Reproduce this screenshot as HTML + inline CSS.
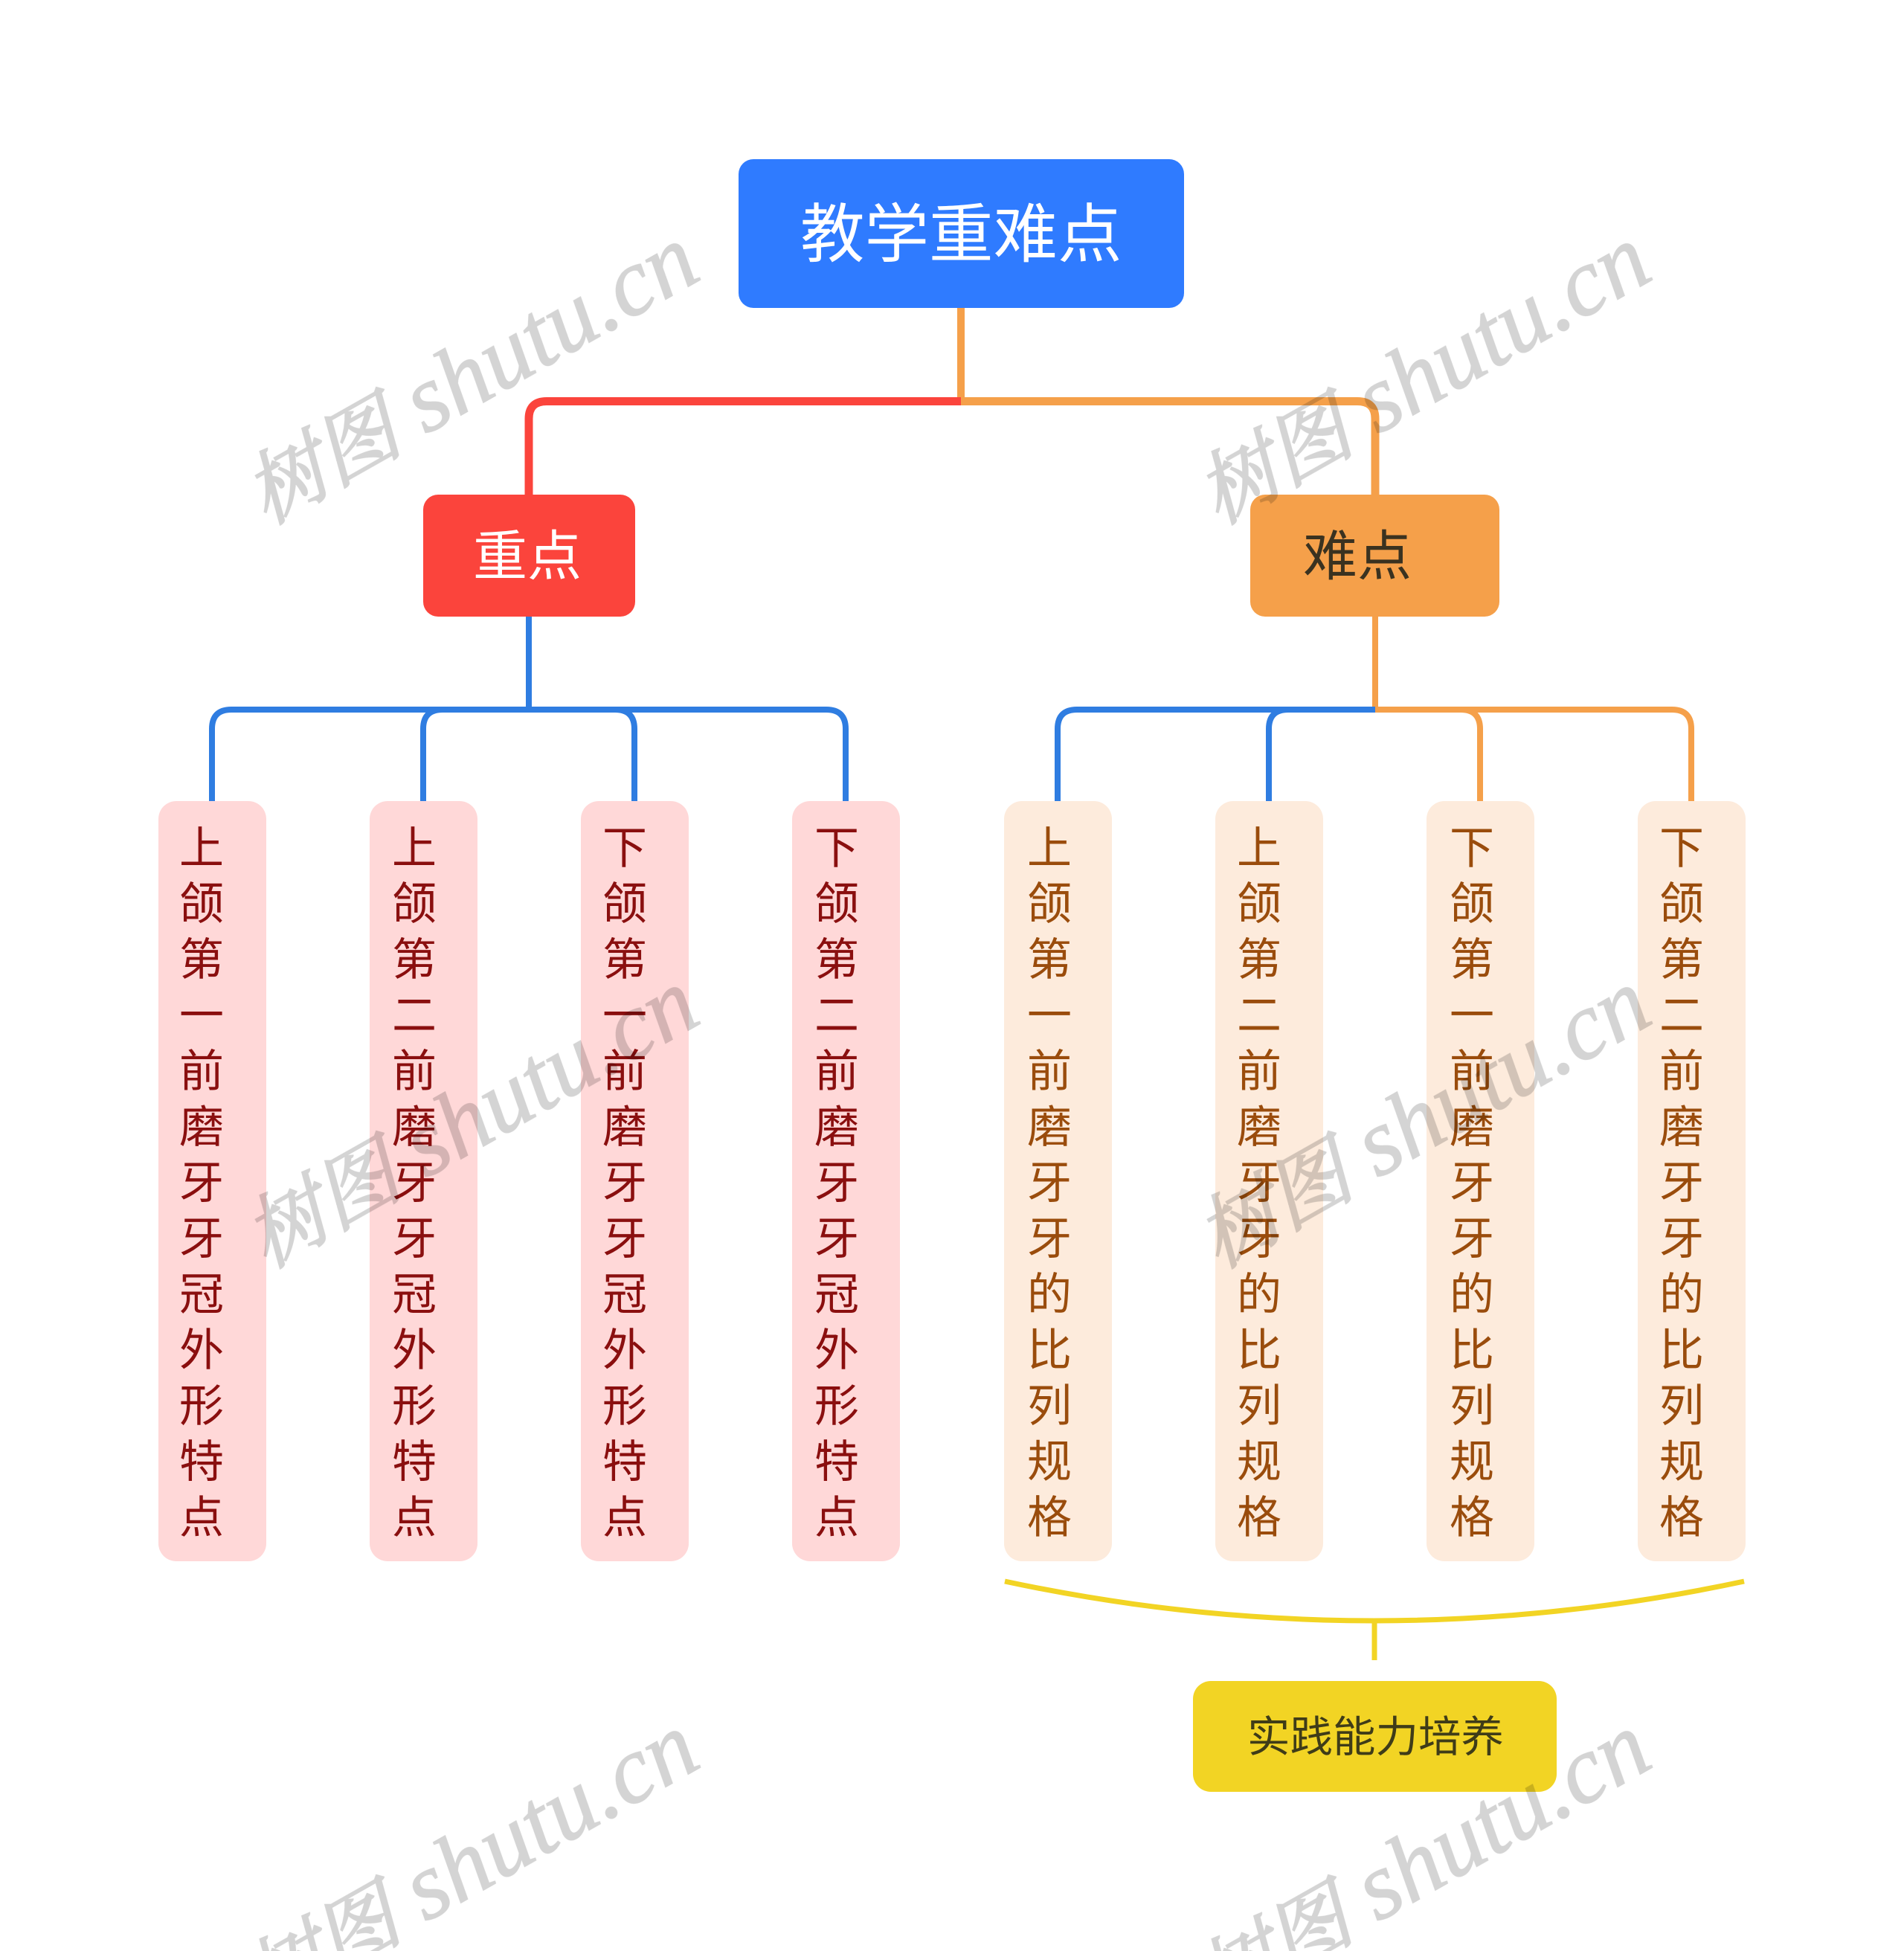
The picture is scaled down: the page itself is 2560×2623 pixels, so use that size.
<!DOCTYPE html>
<html><head><meta charset="utf-8"><style>
html,body{margin:0;padding:0;background:#fff}
#p{position:relative;width:2560px;height:2623px;overflow:hidden;background:#fff;font-family:"Liberation Sans","Noto Sans CJK SC",sans-serif}
.b{position:absolute;box-sizing:border-box}
.c{position:absolute;top:1077px;width:145px;height:1022px;border-radius:24px}
.r{background:#ffd8d8}.o{background:#fdebdc}
.t{position:absolute;top:1103px;width:60px;font-size:60px;line-height:75px;word-break:break-all;text-align:center}
.tr{color:#8a0f0f}.to{color:#9a4c0c}
.l{position:absolute;white-space:nowrap;line-height:1}
svg{position:absolute;left:0;top:0}
.w{font-family:"Liberation Serif","Noto Serif CJK SC",serif;font-style:italic;font-size:128px;fill:#000;stroke:#000;stroke-width:1.5;opacity:.17}
.w .z{font-size:107px;stroke-width:2.5}
</style></head><body><div id="p">
<svg width="2560" height="2623" fill="none">
<path d="M1292 414V540" stroke="#f5a04a" stroke-width="10"/>
<path d="M1292 539.5H735Q711 539.5 711 563V665" stroke="#fb443c" stroke-width="11"/>
<path d="M1292 539.5H1825Q1849 539.5 1849 563V665" stroke="#f5a04a" stroke-width="11"/>
<path d="M711 829V954" stroke="#2f7de1" stroke-width="8"/>
<path d="M711 954H311Q285 954 285 980V1077M711 954H595Q569 954 569 980V1077M711 954H827Q853 954 853 980V1077M711 954H1111Q1137 954 1137 980V1077" stroke="#2f7de1" stroke-width="8"/>
<path d="M1849 829V954" stroke="#f5a04a" stroke-width="8"/>
<path d="M1849 954H1448Q1422 954 1422 980V1077M1849 954H1732Q1706 954 1706 980V1077" stroke="#2f7de1" stroke-width="8"/>
<path d="M1849 954H1964Q1990 954 1990 980V1077M1849 954H2248Q2274 954 2274 980V1077" stroke="#f5a04a" stroke-width="8"/>
<path d="M1351 2126Q1848 2232 2345 2126" stroke="#f2d424" stroke-width="7"/>
<path d="M1848 2180V2232" stroke="#f2d424" stroke-width="7"/>
</svg>
<div class="b" style="left:993px;top:214px;width:599px;height:200px;border-radius:20px;background:#2f7bff"></div>
<div class="l" style="left:1076px;top:273px;font-size:86.5px;color:#fff">教学重难点</div>
<div class="b" style="left:569px;top:665px;width:285px;height:164px;border-radius:20px;background:#fb443c"></div>
<div class="l" style="left:636px;top:712px;font-size:73px;color:#fff">重点</div>
<div class="b" style="left:1681px;top:665px;width:335px;height:164px;border-radius:20px;background:#f5a04a"></div>
<div class="l" style="left:1752px;top:712px;font-size:73px;color:#3a3220">难点</div>
<div class="b" style="left:1604px;top:2260px;width:489px;height:149px;border-radius:24px;background:#f2d424"></div>
<div class="l" style="left:1677px;top:2308px;font-size:57.5px;color:#3f3c18">实践能力培养</div>

<div class="c r" style="left:213px"></div><div class="c r" style="left:497px"></div><div class="c r" style="left:781px"></div><div class="c r" style="left:1065px"></div>
<div class="c o" style="left:1350px"></div><div class="c o" style="left:1634px"></div><div class="c o" style="left:1918px"></div><div class="c o" style="left:2202px"></div>

<div class="t tr" style="left:241px">上颌第一前磨牙牙冠外形特点</div>
<div class="t tr" style="left:527px">上颌第二前磨牙牙冠外形特点</div>
<div class="t tr" style="left:810px">下颌第一前磨牙牙冠外形特点</div>
<div class="t tr" style="left:1095px">下颌第二前磨牙牙冠外形特点</div>
<div class="t to" style="left:1381px">上颌第一前磨牙牙的比列规格</div>
<div class="t to" style="left:1663px">上颌第二前磨牙牙的比列规格</div>
<div class="t to" style="left:1949px">下颌第一前磨牙牙的比列规格</div>
<div class="t to" style="left:2231px">下颌第二前磨牙牙的比列规格</div>

<svg width="2560" height="2623">
<g class="w">
<text transform="translate(358 706) rotate(-29.5)"><tspan class="z">树图</tspan> shutu.cn</text>
<text transform="translate(1638 706) rotate(-29.5)"><tspan class="z">树图</tspan> shutu.cn</text>
<text transform="translate(358 1706) rotate(-29.5)"><tspan class="z">树图</tspan> shutu.cn</text>
<text transform="translate(1638 1706) rotate(-29.5)"><tspan class="z">树图</tspan> shutu.cn</text>
<text transform="translate(358 2706) rotate(-29.5)"><tspan class="z">树图</tspan> shutu.cn</text>
<text transform="translate(1638 2706) rotate(-29.5)"><tspan class="z">树图</tspan> shutu.cn</text>
</g>
</svg>
</div></body></html>
